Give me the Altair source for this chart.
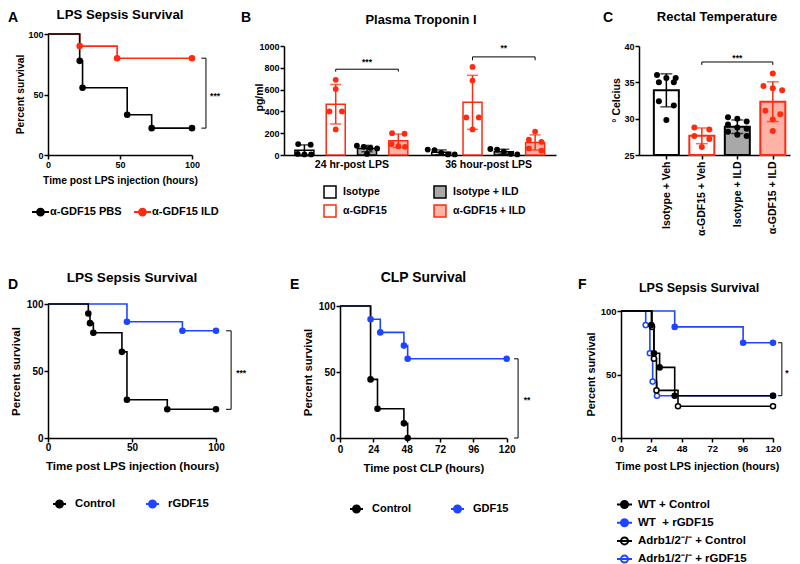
import json
import altair as alt
import pandas as pd

FONT = "Liberation Sans"
BLACK, RED, BLUE = "#000000", "#ff2a10", "#1e45ff"
PINK, GRAY, WHITE = "#ffb2a6", "#a8a8a8", "#ffffff"

# ---------------- data ----------------
# A: LPS sepsis survival
A_series = ["α-GDF15 PBS", "α-GDF15 ILD"]
A_pbs_time = [0, 22, 24, 55, 72, 100]
A_pbs_surv = [100, 77.8, 55.6, 33.3, 22.2, 22.2]
A_ild_time = [0, 22, 48, 100]
A_ild_surv = [100, 90, 80, 80]

# B: plasma troponin I (pg/ml)
B_groups = ["24 hr-post LPS", "36 hour-post LPS"]
B_treats = ["Isotype", "α-GDF15", "Isotype + ILD", "α-GDF15 + ILD"]
B_24_iso = [100, 95, 10, 5, 5]
B_24_agdf = [690, 605, 400, 400, 235]
B_24_iso_ild = [85, 75, 65, 60, 10]
B_24_agdf_ild = [200, 195, 100, 80, 75]
B_36_iso = [50, 45, 20, 5, 5]
B_36_agdf = [808, 683, 345, 345, 235]
B_36_iso_ild = [55, 50, 30, 10, 5]
B_36_agdf_ild = [215, 140, 120, 60, 40]

# C: rectal temperature
C_treats = ["Isotype + Veh", "α-GDF15 + Veh", "Isotype + ILD", "α-GDF15 + ILD"]
C_iso_veh = [36.0, 35.6, 35.6, 35.0, 35.0, 32.4, 31.8, 29.8]
C_agdf_veh = [28.8, 28.5, 27.6, 27.2, 26.1]
C_iso_ild = [30.2, 30.0, 29.6, 29.2, 28.8, 28.6, 28.2, 27.8, 27.6]
C_agdf_ild = [36.2, 34.5, 34.2, 33.9, 31.1, 30.6, 29.9, 28.3]

# D: LPS sepsis survival (rGDF15)
D_series = ["Control", "rGDF15"]
D_ctl_time = [0, 24, 25, 27, 44, 47, 71, 100]
D_ctl_surv = [100, 92.9, 85.7, 78.6, 64.3, 28.6, 21.4, 21.4]
D_rg_time = [0, 47, 80, 100]
D_rg_surv = [100, 86.7, 80, 80]

# E: CLP survival
E_series = ["Control", "GDF15"]
E_ctl_time = [0, 22, 27, 46, 48.7]
E_ctl_surv = [100, 44.4, 22.2, 11.1, 0]
E_gdf_time = [0, 22, 29, 46, 48.7, 120]
E_gdf_surv = [100, 90, 80, 70, 60, 60]

# F: LPS sepsis survival, Adrb1/2 knockout
F_series = ["WT + Control", "WT\u00a0 + rGDF15", "Adrb1/2⁻/⁻ + Control", "Adrb1/2⁻/⁻ + rGDF15"]
F_wtc_time = [0, 24, 26, 30.5, 42.4, 120]
F_wtc_surv = [100, 88.9, 66.7, 55.6, 33.3, 33.3]
F_wtr_time = [0, 42.4, 96.4, 120]
F_wtr_surv = [100, 87.5, 75, 75]
F_koc_time = [0, 24.5, 26, 28, 45, 120]
F_koc_surv = [100, 87.5, 62.5, 37.5, 25, 25]
F_kor_time = [0, 19.5, 22.8, 25, 28.4, 120]
F_kor_surv = [100, 88.9, 66.7, 44.4, 33.3, 33.3]

LEG_PATH = "M-1,0L1,0M{r},0A{r},{r},0,1,1,-{r},0A{r},{r},0,1,1,{r},0Z"
RULE = dict(color="black", strokeWidth=1)


def txt(text, x, y, size, align="left", baseline="top"):
    return alt.Chart(pd.DataFrame({"t": [text]})).mark_text(
        font=FONT, fontSize=size, fontWeight="bold", color="black",
        align=align, baseline=baseline,
    ).encode(text="t:N", x=alt.value(x), y=alt.value(y))


def yaxis(values, title, tx, ty, tfs, lfs, fmt="d", offset=0):
    return alt.Axis(values=values, title=title, titleX=tx, titleY=ty, titleAngle=270,
                    titleAlign="center", titleBaseline="middle", titleFontSize=tfs,
                    labelFontSize=lfs, labelPadding=1, tickSize=4, format=fmt, offset=offset)


def xaxis(values, title, ty, tfs, lfs, lpad):
    return alt.Axis(values=values, title=title, titleY=ty, titleBaseline="middle",
                    titleFontSize=tfs, labelFontSize=lfs, labelPadding=lpad, labelAngle=0,
                    labelFlush=False, labelOverlap=False, tickSize=4, format="d")


def swarm(vals, thresh, gap2, gapn):
    idx = sorted(range(len(vals)), key=lambda i: -vals[i])
    rows = []
    for i in idx:
        if rows and vals[rows[-1][0]] - vals[i] < thresh:
            rows[-1].append(i)
        else:
            rows.append([i])
    off = [0.0] * len(vals)
    for r in rows:
        k = len(r)
        g = gap2 if k == 2 else gapn
        for j, i in enumerate(r):
            off[i] = (j - (k - 1) / 2) * g
    return off


def star_layer(df, X, Y):
    return alt.Chart(df).mark_text(
        font=FONT, fontSize=8.5, fontWeight="bold", color="black", dy=5,
        align="center", baseline="alphabetic").encode(x=X("sx"), y=Y("sy"), text="s:N")


def survival(series, curves, strokes, fills, order, xdom, xrange, Wp, H, ytop, xax, yax, leg,
             bracket, title, title_xy, title_fs, letter, letter_xy):
    rows = []
    for s in order:
        t, v = curves[s]
        for ti, vi in zip(t, v):
            rows.append({"series": s, "t": ti, "v": vi})
    df = pd.DataFrame(rows)
    xs = alt.Scale(domain=xdom, range=xrange, nice=False, zero=False)
    ys = alt.Scale(domain=[0, 100], range=[H, ytop], nice=False, zero=False)

    def X(f):
        return alt.X(f + ":Q", scale=xs, axis=xax)

    def Y(f):
        return alt.Y(f + ":Q", scale=ys, axis=yax)

    sst = alt.Scale(domain=series, range=strokes)
    sfi = alt.Scale(domain=series, range=fills)
    line = alt.Chart(df).mark_line(interpolate="step-after", strokeWidth=1.6).encode(
        x=X("t"), y=Y("v"), stroke=alt.Stroke("series:N", scale=sst, legend=leg))
    pts = alt.Chart(df[df.t > 0]).mark_point(shape="circle", filled=True, size=26,
                                             strokeWidth=1.5, opacity=1).encode(
        x=X("t"), y=Y("v"),
        fill=alt.Fill("series:N", scale=sfi, legend=leg),
        stroke=alt.Stroke("series:N", scale=sst, legend=leg),
    )
    bx, bx0, lo, hi, sx, sy, stars = bracket
    bdf = pd.DataFrame({"x": [bx], "x0": [bx0], "lo": [lo], "hi": [hi]})
    vr = alt.Chart(bdf).mark_rule(**RULE).encode(x=X("x"), y=Y("lo"), y2="hi:Q")
    tlo = alt.Chart(bdf).mark_rule(**RULE).encode(x=X("x0"), x2="x:Q", y=Y("lo"))
    thi = alt.Chart(bdf).mark_rule(**RULE).encode(x=X("x0"), x2="x:Q", y=Y("hi"))
    st = star_layer(pd.DataFrame({"sx": [sx], "sy": [sy], "s": [stars]}), X, Y)
    return alt.layer(
        line, pts, vr, tlo, thi, st,
        txt(title, title_xy[0], title_xy[1], title_fs, "center", "alphabetic"),
        txt(letter, letter_xy[0], letter_xy[1], 14),
    ).properties(width=Wp, height=H)


def sym_legend(lx, ly, r, width, fs, loff, direction="horizontal", cpad=10, rpad=2):
    return alt.Legend(title=None, orient="none", legendX=lx, legendY=ly, direction=direction,
                      columns=1 if direction == "vertical" else 2,
                      symbolType=LEG_PATH.format(r=r), symbolSize=width * width,
                      symbolStrokeWidth=2, symbolOpacity=1, labelFont=FONT, labelFontSize=fs,
                      labelFontWeight="bold", labelColor="black", labelOffset=loff,
                      columnPadding=cpad, rowPadding=rpad, padding=0)


COL1, COL2 = 292, 299
H1, H2 = 121, 134
LET1 = -23  # letter offset (top) for the first row

# ---------------- panel A ----------------
A = survival(
    A_series,
    {A_series[0]: (A_pbs_time, A_pbs_surv), A_series[1]: (A_ild_time, A_ild_surv)},
    [BLACK, RED], [BLACK, RED], [A_series[1], A_series[0]],
    [0, 100], [0, 144], COL1, H1, 0,
    xaxis([0, 50, 100], "Time post LPS injection (hours)", 25, 10.3, 9, 1.5),
    yaxis([0, 50, 100], "Percent survival", -28, 60, 10.3, 9),
    sym_legend(-17, 168.5, 0.4, 17, 11, 0, cpad=8),
    (109.7, 106.5, 22.2, 80, 116, 50.4, "***"),
    "LPS Sepsis Survival", (72, -15), 13.2, "A", (-40, LET1),
)

# ---------------- panel B ----------------
GSTEP = 4.37
B_OFF = 56
B_vals = [[B_24_iso, B_24_agdf, B_24_iso_ild, B_24_agdf_ild],
          [B_36_iso, B_36_agdf, B_36_iso_ild, B_36_agdf_ild]]
B_unit = 32.5
rows = []
for gi, g in enumerate(B_groups):
    for ti, tr in enumerate(B_treats):
        vals = B_vals[gi][ti]
        offs = swarm(vals, 55, 13, 7)
        pos = gi * GSTEP + ti
        for v, o in zip(vals, offs):
            rows.append({"group": g, "treat": tr, "ab": tr.split(" +")[0], "pos": pos,
                         "xd": pos + o / B_unit, "value": v})
bdf = pd.DataFrame(rows)
bxs = alt.Scale(domain=[-16 / B_unit, (272 - 16) / B_unit], range=[-B_OFF, 272 - B_OFF],
                nice=False, zero=False)
bys = alt.Scale(domain=[0, 1000], range=[H1, 12], nice=False)
bfill = alt.Scale(domain=B_treats, range=[WHITE, WHITE, GRAY, PINK])
bstroke = alt.Scale(domain=B_treats, range=[BLACK, RED, BLACK, RED])
bcol = alt.Scale(domain=["Isotype", "α-GDF15"], range=[BLACK, RED])
legB = alt.Legend(title=None, orient="none", legendX=-17, legendY=151, columns=2,
                  symbolType="square", symbolSize=144, symbolStrokeWidth=1.5, symbolOpacity=1,
                  labelFont=FONT, labelFontSize=10.5, labelFontWeight="bold", labelColor="black",
                  labelOffset=6, columnPadding=44, rowPadding=1, padding=0)
bx_axis = alt.Axis(values=[1.5, GSTEP + 1.5], title=None, ticks=False, tickSize=0, labelPadding=4,
                   labelFontSize=10.5, labelAngle=0, labelFlush=False, labelOverlap=False,
                   labelExpr=f"datum.value < {GSTEP} ? {json.dumps(B_groups[0])} : {json.dumps(B_groups[1])}")
by_axis = yaxis(list(range(0, 1001, 200)), "pg/ml", -25, 63, 10.5, 9, offset=B_OFF)


def BX(f):
    return alt.X(f + ":Q", scale=bxs, axis=bx_axis)


def BY(f):
    return alt.Y(f + ":Q", scale=bys, axis=by_axis)


B_bars = alt.Chart(bdf).mark_bar(size=19, strokeWidth=1.5).encode(
    x=BX("pos"),
    y=alt.Y("mean(value):Q", scale=bys, axis=by_axis),
    fill=alt.Fill("treat:N", scale=bfill, legend=legB),
    stroke=alt.Stroke("treat:N", scale=bstroke, legend=legB),
)
B_err = alt.Chart(bdf).mark_errorbar(extent="stdev", ticks=True, orient="vertical", size=11,
                                     thickness=1.5).encode(
    x=BX("pos"), y=BY("value"), color=alt.Color("ab:N", scale=bcol, legend=None))
B_dots = alt.Chart(bdf).mark_circle(size=34, opacity=1).encode(
    x=BX("xd"), y=BY("value"), color=alt.Color("ab:N", scale=bcol, legend=None))
B_br = pd.DataFrame({"x1": [1, GSTEP + 1], "x2": [3, GSTEP + 3], "y": [787, 900],
                     "yd": [765, 869], "sx": [2, GSTEP + 2], "sy": [870, 1000],
                     "s": ["***", "**"]})
B_h = alt.Chart(B_br).mark_rule(**RULE).encode(x=BX("x1"), x2="x2:Q", y=BY("y"))
B_v1 = alt.Chart(B_br).mark_rule(**RULE).encode(x=BX("x1"), y=BY("y"), y2="yd:Q")
B_v2 = alt.Chart(B_br).mark_rule(**RULE).encode(x=BX("x2"), y=BY("y"), y2="yd:Q")
B_st = star_layer(B_br, BX, BY)
B = alt.layer(B_bars, B_err, B_dots, B_h, B_v1, B_v2, B_st,
              txt("Plasma Troponin I", 81, -10, 12.9, "center", "alphabetic"),
              txt("B", -99, LET1, 14)).properties(width=COL2, height=H1)

# ---------------- panel C ----------------
C_unit = 38
C_W = 151
C_vals = [C_iso_veh, C_agdf_veh, C_iso_ild, C_agdf_ild]
rows = []
for ti, tr in enumerate(C_treats):
    offs = swarm(C_vals[ti], 0.85, 16, 10)
    for v, o in zip(C_vals[ti], offs):
        rows.append({"treat": tr, "ab": tr.split(" +")[0], "pos": ti, "xd": ti + o / C_unit,
                     "value": v})
cdf = pd.DataFrame(rows)
cxs = alt.Scale(domain=[-0.63, -0.63 + C_W / C_unit], range=[0, C_W], nice=False, zero=False)
cys = alt.Scale(domain=[25, 40], range=[H1, 12], nice=False, zero=False)
cfill = alt.Scale(domain=C_treats, range=[WHITE, WHITE, GRAY, PINK])
cstroke = alt.Scale(domain=C_treats, range=[BLACK, RED, BLACK, RED])
cx_axis = alt.Axis(values=[0, 1, 2, 3], title=None, tickSize=4, labelPadding=2, labelFontSize=10.5,
                   labelAngle=270, labelFlush=False, labelOverlap=False,
                   labelExpr=f"{json.dumps(C_treats, ensure_ascii=False)}[datum.value]")
cy_axis = yaxis([25, 30, 35, 40], "° Celcius", -23, 66, 10.5, 9)


def CX(f):
    return alt.X(f + ":Q", scale=cxs, axis=cx_axis)


def CY(f):
    return alt.Y(f + ":Q", scale=cys, axis=cy_axis)


C_bars = alt.Chart(cdf).mark_bar(size=25, strokeWidth=2).encode(
    x=CX("pos"),
    y=alt.Y("mean(value):Q", scale=cys, axis=cy_axis),
    y2=alt.datum(25),
    fill=alt.Fill("treat:N", scale=cfill, legend=None),
    stroke=alt.Stroke("treat:N", scale=cstroke, legend=None),
)
C_err = alt.Chart(cdf).mark_errorbar(extent="stdev", ticks=True, orient="vertical", size=12,
                                     thickness=1.5).encode(
    x=CX("pos"), y=CY("value"), color=alt.Color("ab:N", scale=bcol, legend=None))
C_dots = alt.Chart(cdf).mark_circle(size=36, opacity=1).encode(
    x=CX("xd"), y=CY("value"), color=alt.Color("ab:N", scale=bcol, legend=None))
C_br = pd.DataFrame({"x1": [1], "x2": [3], "y": [37.8], "yd": [37.4], "sx": [2], "sy": [38.6],
                     "s": ["***"]})
C_h = alt.Chart(C_br).mark_rule(**RULE).encode(x=CX("x1"), x2="x2:Q", y=CY("y"))
C_v1 = alt.Chart(C_br).mark_rule(**RULE).encode(x=CX("x1"), y=CY("y"), y2="yd:Q")
C_v2 = alt.Chart(C_br).mark_rule(**RULE).encode(x=CX("x2"), y=CY("y"), y2="yd:Q")
C_st = star_layer(C_br, CX, CY)
C = alt.layer(C_bars, C_err, C_dots, C_h, C_v1, C_v2, C_st,
              txt("Rectal Temperature", 78, -13.5, 13, "center", "alphabetic"),
              txt("C", -36, LET1, 14)).properties(width=C_W, height=H1)

# ---------------- panel D ----------------
D = survival(
    D_series,
    {D_series[0]: (D_ctl_time, D_ctl_surv), D_series[1]: (D_rg_time, D_rg_surv)},
    [BLACK, BLUE], [BLACK, BLUE], [D_series[1], D_series[0]],
    [0, 100], [0, 168], COL1, H2, 0,
    xaxis([0, 50, 100], "Time post LPS injection (hours)", 28, 11.5, 10, 0.5),
    yaxis([0, 50, 100], "Percent survival", -32, 67, 11.5, 10),
    sym_legend(4, 192, 0.54, 13, 11.3, 8, cpad=26),
    (109, 106, 21.4, 80, 115, 50, "***"),
    "LPS Sepsis Survival", (84, -22), 13.6, "D", (-40, -26),
)

# ---------------- panel E ----------------
E = survival(
    E_series,
    {E_series[0]: (E_ctl_time, E_ctl_surv), E_series[1]: (E_gdf_time, E_gdf_surv)},
    [BLACK, BLUE], [BLACK, BLUE], [E_series[1], E_series[0]],
    [0, 120], [0, 166.7], 281, H2, 2,
    xaxis([0, 24, 48, 72, 96, 120], "Time post CLP (hours)", 30, 11.3, 10, 2),
    yaxis([0, 50, 100], "Percent survival", -32, 68, 11.3, 10),
    sym_legend(9, 197, 0.54, 13, 11, 8, cpad=35),
    (128.2, 125.3, 0, 60, 134.6, 30, "**"),
    "CLP Survival", (83.5, -22), 13.9, "E", (-50, -26),
)

# ---------------- panel F ----------------
F_OFF = 18
F_W = 152
F = survival(
    F_series,
    {F_series[0]: (F_wtc_time, F_wtc_surv), F_series[1]: (F_wtr_time, F_wtr_surv),
     F_series[2]: (F_koc_time, F_koc_surv), F_series[3]: (F_kor_time, F_kor_surv)},
    [BLACK, BLUE, BLACK, BLUE], [BLACK, BLUE, WHITE, WHITE],
    [F_series[1], F_series[3], F_series[2], F_series[0]],
    [0, 120], [-F_OFF, F_W - F_OFF], 140, H2, 7,
    xaxis([0, 24, 48, 72, 96, 120], "Time post LPS injection (hours)", 28, 10.9, 9.5, 1),
    yaxis([0, 50, 100], "Percent survival", -30, 70, 10.9, 9.5, offset=F_OFF),
    sym_legend(-23, 192, 0.47, 15, 11.5, 5, direction="vertical", rpad=1.2),
    (127, 124, 33.3, 75, 131, 53, "*"),
    "LPS Sepsis Survival", (60, -12), 12.5, "F", (-61, -26),
)

chart = alt.concat(
    A, B, C, D, E, F, columns=3, spacing={"row": 149, "column": 0},
    bounds="flush", align="each",
).resolve_scale(
    color="independent", fill="independent", stroke="independent",
).resolve_legend(
    color="independent", fill="independent", stroke="independent",
).properties(padding=0, background="white").configure_view(stroke=None).configure_axis(
    domainColor="black", domainWidth=1.5, tickColor="black", tickWidth=1.5,
    labelColor="black", titleColor="black", labelFont=FONT, titleFont=FONT,
    labelFontWeight="bold", titleFontWeight="bold", grid=False,
)

chart.save("out.html", embed_options={"renderer": "svg", "actions": False})
